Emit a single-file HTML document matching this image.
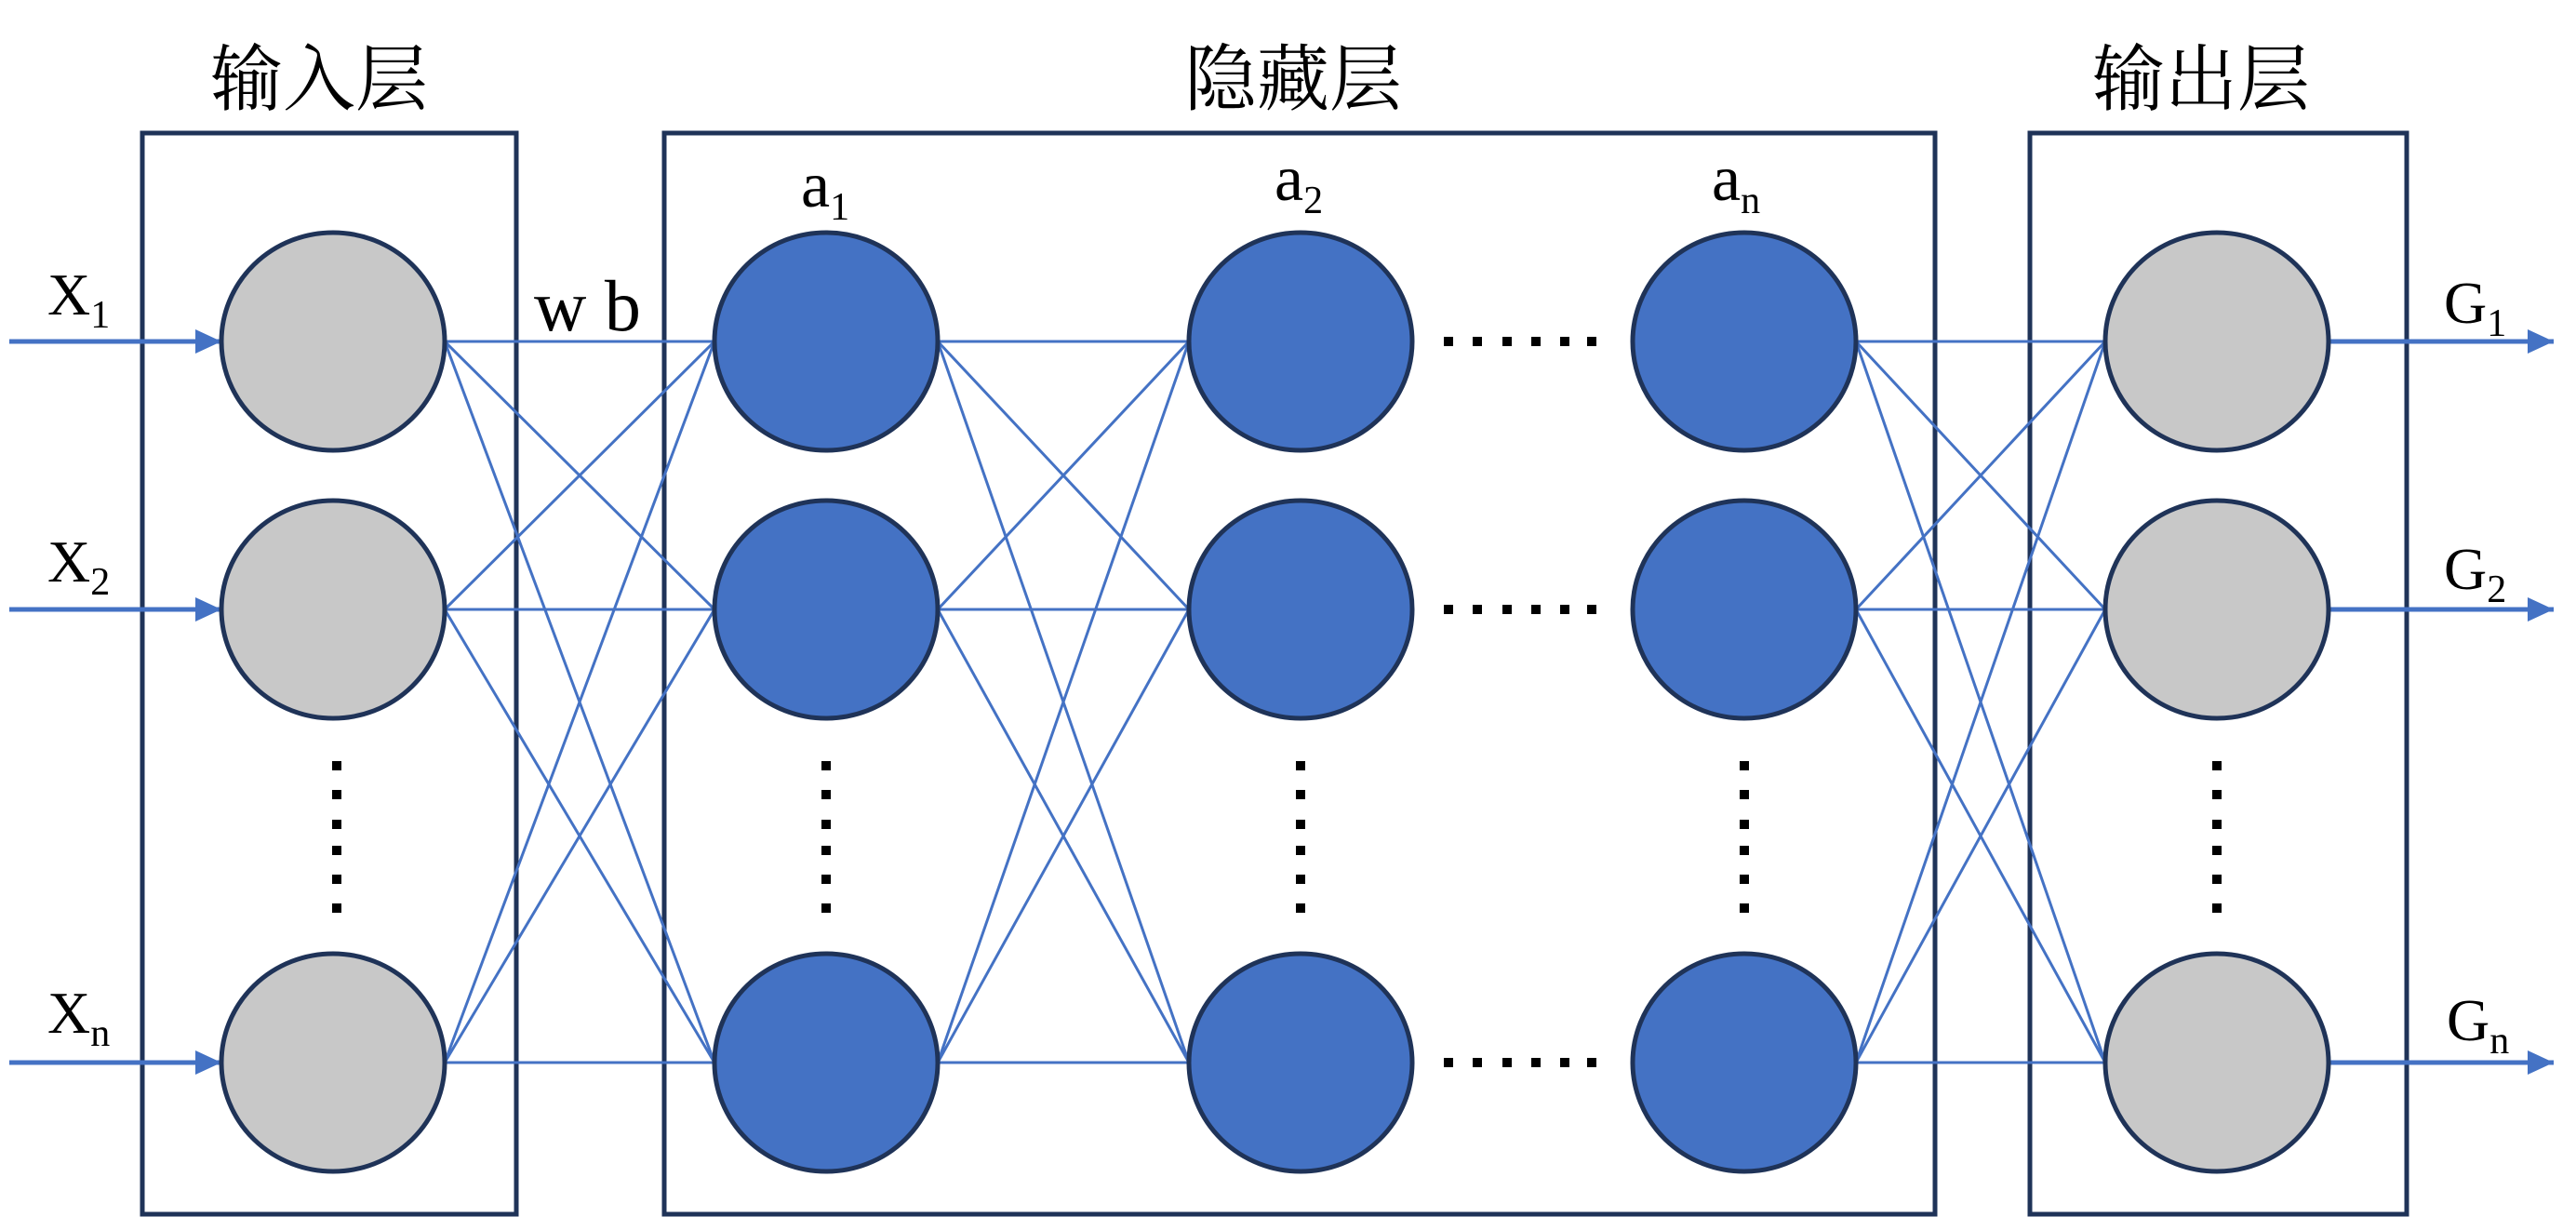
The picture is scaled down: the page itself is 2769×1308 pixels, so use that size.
<!DOCTYPE html>
<html><head><meta charset="utf-8"><style>
html,body{margin:0;padding:0;background:#fff;}
svg{display:block;}
.t{font-family:"Liberation Serif",serif;fill:#000;}
.c{font-family:"Liberation Serif","Noto Serif CJK SC",serif;fill:#000;font-size:78px;}
</style></head><body>
<svg width="2769" height="1308" viewBox="0 0 2769 1308" xmlns="http://www.w3.org/2000/svg">
<defs>
<marker id="ah" markerWidth="28" markerHeight="26" refX="28" refY="13" orient="auto" markerUnits="userSpaceOnUse">
<path d="M0,0 L28,13 L0,26 Z" fill="#4472c4"/>
</marker>
<g id="vd">
<rect x="-5" y="818" width="10" height="10"/><rect x="-5" y="849" width="10" height="10"/><rect x="-5" y="881" width="10" height="10"/><rect x="-5" y="909" width="10" height="10"/><rect x="-5" y="940" width="10" height="10"/><rect x="-5" y="971" width="10" height="10"/>
</g>
<g id="hd">
<rect x="1552" y="362" width="10" height="10"/><rect x="1583" y="362" width="10" height="10"/><rect x="1615" y="362" width="10" height="10"/><rect x="1646" y="362" width="10" height="10"/><rect x="1677" y="362" width="10" height="10"/><rect x="1706" y="362" width="10" height="10"/>
</g>
</defs>
<text class="c" x="226" y="112">输入层</text>
<text class="c" x="1273" y="112">隐藏层</text>
<text class="c" x="2249" y="112">输出层</text>
<g fill="none" stroke="#1f3358" stroke-width="5">
<rect x="153" y="143" width="402" height="1162"/>
<rect x="714" y="143" width="1366" height="1162"/>
<rect x="2182" y="143" width="405" height="1162"/>
</g>
<g stroke="#4472c4" stroke-width="5" fill="none">
<line x1="10" y1="367" x2="238" y2="367" marker-end="url(#ah)"/>
<line x1="10" y1="655" x2="238" y2="655" marker-end="url(#ah)"/>
<line x1="10" y1="1142" x2="238" y2="1142" marker-end="url(#ah)"/>
<line x1="2503" y1="367" x2="2745" y2="367" marker-end="url(#ah)"/>
<line x1="2503" y1="655" x2="2745" y2="655" marker-end="url(#ah)"/>
<line x1="2503" y1="1142" x2="2745" y2="1142" marker-end="url(#ah)"/>
</g>
<g stroke="#4472c4" stroke-width="3">
<line x1="478" y1="367" x2="768" y2="367"/><line x1="478" y1="367" x2="768" y2="655"/><line x1="478" y1="367" x2="768" y2="1142"/>
<line x1="478" y1="655" x2="768" y2="367"/><line x1="478" y1="655" x2="768" y2="655"/><line x1="478" y1="655" x2="768" y2="1142"/>
<line x1="478" y1="1142" x2="768" y2="367"/><line x1="478" y1="1142" x2="768" y2="655"/><line x1="478" y1="1142" x2="768" y2="1142"/>
<line x1="1008" y1="367" x2="1278" y2="367"/><line x1="1008" y1="367" x2="1278" y2="655"/><line x1="1008" y1="367" x2="1278" y2="1142"/>
<line x1="1008" y1="655" x2="1278" y2="367"/><line x1="1008" y1="655" x2="1278" y2="655"/><line x1="1008" y1="655" x2="1278" y2="1142"/>
<line x1="1008" y1="1142" x2="1278" y2="367"/><line x1="1008" y1="1142" x2="1278" y2="655"/><line x1="1008" y1="1142" x2="1278" y2="1142"/>
<line x1="1995" y1="367" x2="2263" y2="367"/><line x1="1995" y1="367" x2="2263" y2="655"/><line x1="1995" y1="367" x2="2263" y2="1142"/>
<line x1="1995" y1="655" x2="2263" y2="367"/><line x1="1995" y1="655" x2="2263" y2="655"/><line x1="1995" y1="655" x2="2263" y2="1142"/>
<line x1="1995" y1="1142" x2="2263" y2="367"/><line x1="1995" y1="1142" x2="2263" y2="655"/><line x1="1995" y1="1142" x2="2263" y2="1142"/>
</g>
<g stroke="#1f3358" stroke-width="5">
<g fill="#c8c8c8">
<ellipse cx="358" cy="367" rx="120" ry="117"/><ellipse cx="358" cy="655" rx="120" ry="117"/><ellipse cx="358" cy="1142" rx="120" ry="117"/>
<ellipse cx="2383" cy="367" rx="120" ry="117"/><ellipse cx="2383" cy="655" rx="120" ry="117"/><ellipse cx="2383" cy="1142" rx="120" ry="117"/>
</g>
<g fill="#4472c4">
<ellipse cx="888" cy="367" rx="120" ry="117"/><ellipse cx="888" cy="655" rx="120" ry="117"/><ellipse cx="888" cy="1142" rx="120" ry="117"/>
<ellipse cx="1398" cy="367" rx="120" ry="117"/><ellipse cx="1398" cy="655" rx="120" ry="117"/><ellipse cx="1398" cy="1142" rx="120" ry="117"/>
<ellipse cx="1875" cy="367" rx="120" ry="117"/><ellipse cx="1875" cy="655" rx="120" ry="117"/><ellipse cx="1875" cy="1142" rx="120" ry="117"/>
</g>
</g>
<g fill="#000">
<use href="#vd" x="362"/><use href="#vd" x="888"/><use href="#vd" x="1398"/><use href="#vd" x="1875"/><use href="#vd" x="2383"/>
<use href="#hd"/><use href="#hd" y="288"/><use href="#hd" y="775"/>
</g>
<g class="t" font-size="64">
<text x="51" y="338">X<tspan font-size="42" dy="14">1</tspan></text>
<text x="51" y="625">X<tspan font-size="42" dy="14">2</tspan></text>
<text x="51" y="1110">X<tspan font-size="42" dy="14">n</tspan></text>
<text x="2627" y="347">G<tspan font-size="42" dy="14">1</tspan></text>
<text x="2627" y="633">G<tspan font-size="42" dy="14">2</tspan></text>
<text x="2630" y="1118">G<tspan font-size="42" dy="14">n</tspan></text>
<text x="861" y="222" font-size="70">a<tspan font-size="42" dy="14">1</tspan></text>
<text x="1370" y="215" font-size="70">a<tspan font-size="42" dy="14">2</tspan></text>
<text x="1840" y="215" font-size="70">a<tspan font-size="42" dy="14">n</tspan></text>
<text x="574" y="355" font-size="78">w b</text>
</g>
</svg>
</body></html>
